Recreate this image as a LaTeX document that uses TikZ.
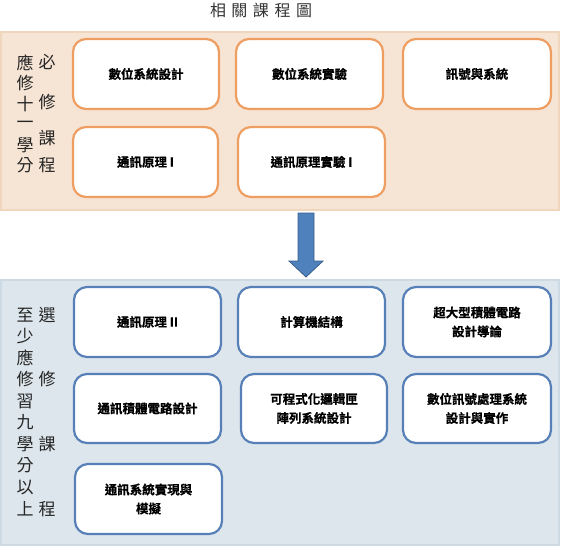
\documentclass[tikz,border=0pt]{standalone}
\usepackage{fontspec}
\usetikzlibrary{calc}
\newfontfamily\cjk{Noto Sans CJK TC}
\newfontfamily\cjkb[FakeBold=0.6]{Noto Sans CJK TC Bold}
\definecolor{peach}{RGB}{246,229,213}
\definecolor{peachline}{RGB}{241,214,190}
\definecolor{orangeline}{RGB}{238,158,96}
\definecolor{bluegray}{RGB}{221,230,236}
\definecolor{bluegrayline}{RGB}{205,218,228}
\definecolor{blueline}{RGB}{88,128,184}
\definecolor{arrowfill}{RGB}{79,129,189}
\definecolor{arrowline}{RGB}{56,93,138}
\tikzset{
  panel/.style={line width=1.5pt},
  course/.style={draw, fill=white, rounded corners=13pt, line width=2.2pt,
    minimum height=70pt, align=center, font=\cjkb\fontsize{12.5}{19}\selectfont, inner sep=2pt},
  topcourse/.style={course, draw=orangeline},
  botcourse/.style={course, draw=blueline},
  side/.style={font=\cjk\fontsize{17}{20}\selectfont, inner sep=0pt, text=black!85},
}
\begin{document}
\begin{tikzpicture}[x=1pt,y=-1pt]
\useasboundingbox (0,0) rectangle (561,547);
% title
\node[font=\cjk\fontsize{16}{18}\selectfont, text=black!80] (title) at (261,10)
  {相\hspace{5.5pt}關\hspace{5.5pt}課\hspace{5.5pt}程\hspace{5.5pt}圖};
% panels
\draw[panel, fill=peach, draw=peachline] (1,32) rectangle (559,210);
\draw[panel, fill=bluegray, draw=bluegrayline] (1,280) rectangle (559,545);
% top side labels
\foreach \c/\y [count=\i] in {應/63,修/83.5,十/104,一/124.5,學/145,分/165.5}
  \node[side] (ta\i) at (25,\y) {\c};
\foreach \c/\y [count=\i] in {必/62,修/102,課/138,程/165}
  \node[side] (tb\i) at (47,\y) {\c};
% bottom side labels
\foreach \c/\y [count=\i] in {至/315,少/336.5,應/358,修/379.5,習/401,九/422.5,學/444,分/465.5,以/487,上/509}
  \node[side] (ba\i) at (25,\y) {\c};
\foreach \c/\y [count=\i] in {選/315,修/379,課/444,程/509}
  \node[side] (bb\i) at (47,\y) {\c};
% top courses
\node[topcourse, minimum width=146pt] (t1) at (146,74) {數位系統設計};
\node[topcourse, minimum width=147pt] (t2) at (309.5,74) {數位系統實驗};
\node[topcourse, minimum width=148pt] (t3) at (477,74) {訊號與系統};
\node[topcourse, minimum width=145pt] (t4) at (145.5,162) {通訊原理 I};
\node[topcourse, minimum width=147pt] (t5) at (311.5,162) {通訊原理實驗 I};
% bottom courses
\node[botcourse, minimum width=147pt] (b1) at (147.5,322) {通訊原理 II};
\node[botcourse, minimum width=147pt] (b2) at (311.5,322) {計算機結構};
\node[botcourse, minimum width=148pt] (b3) at (477,322) {超大型積體電路\\設計導論};
\node[botcourse, minimum width=147pt, minimum height=69pt] (b4) at (147.5,408.5) {通訊積體電路設計};
\node[botcourse, minimum width=146pt, minimum height=69pt] (b5) at (314,408.5) {可程式化邏輯匣\\陣列系統設計};
\node[botcourse, minimum width=148pt, minimum height=69pt] (b6) at (477,408.5) {數位訊號處理系統\\設計與實作};
\node[botcourse, minimum width=147pt] (b7) at (148.5,499) {通訊系統實現與\\模擬};
% arrow
\coordinate (as) at (306,213);
\coordinate (at) at (306,277);
\draw[fill=arrowfill, draw=arrowline, line width=0.8pt, line join=miter]
  ($(as)+(-8,0)$) -- ($(as)+(8,0)$) -- ($(as)+(8,48)$) -- ($(as)+(17,48)$) -- (at)
  -- ($(as)+(-17,48)$) -- ($(as)+(-8,48)$) -- cycle;
\end{tikzpicture}
\end{document}
